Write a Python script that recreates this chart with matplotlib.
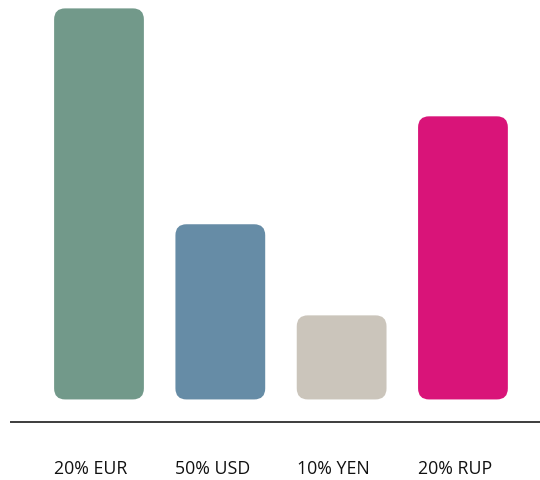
import numpy as np
import matplotlib
matplotlib.use("Agg")
import matplotlib.pyplot as plt
from matplotlib.patches import FancyBboxPatch
from matplotlib.transforms import blended_transform_factory

# datos de las barras
etiquetas = ["20% EUR", "50% USD", "10% YEN", "20% RUP"]
valores = [100.0, 44.8, 21.5, 72.4]
colores = ["#72998a", "#668ca6", "#cbc5bb", "#d91479"]

ANCHO_PX, ALTO_PX = 540, 481
DPI = 100
ANCHO_BARRA = 0.74
RADIO_PX = 11

plt.rcParams["font.family"] = ["Open Sans", "DejaVu Sans"]

fig = plt.figure(figsize=(ANCHO_PX / DPI, ALTO_PX / DPI), dpi=DPI)
ax = fig.add_axes([0, 0, 1, 1])
ax.set_xlim(-0.816, 3.635)
ax.set_ylim(-20.6, 102.4)
ax.axis("off")

# escala px por unidad de datos para redondear las esquinas por igual
px_x = ANCHO_PX / (ax.get_xlim()[1] - ax.get_xlim()[0])
px_y = ALTO_PX / (ax.get_ylim()[1] - ax.get_ylim()[0])
r_x = RADIO_PX / px_x

x = np.arange(len(valores))
for xi, v, c in zip(x, valores, colores):
    caja = FancyBboxPatch((xi - ANCHO_BARRA / 2, 0), ANCHO_BARRA, v,
                          boxstyle=f"round,pad=0,rounding_size={r_x}",
                          mutation_aspect=px_x / px_y,
                          facecolor=c, edgecolor="none")
    ax.add_patch(caja)

# linea base
ax.plot([11 / ANCHO_PX, 1], [1 - 422.5 / ALTO_PX] * 2,
        color="#3c3c3c", lw=1.4, transform=ax.transAxes)

trans = blended_transform_factory(ax.transData, ax.transAxes)
for xi, et in zip(x, etiquetas):
    ax.text(xi - ANCHO_BARRA / 2 + 0.0, 1 - 469 / ALTO_PX, et,
            transform=trans, ha="left", va="center",
            fontsize=12.8, color="#111111")

fig.savefig("out.png", dpi=DPI)
